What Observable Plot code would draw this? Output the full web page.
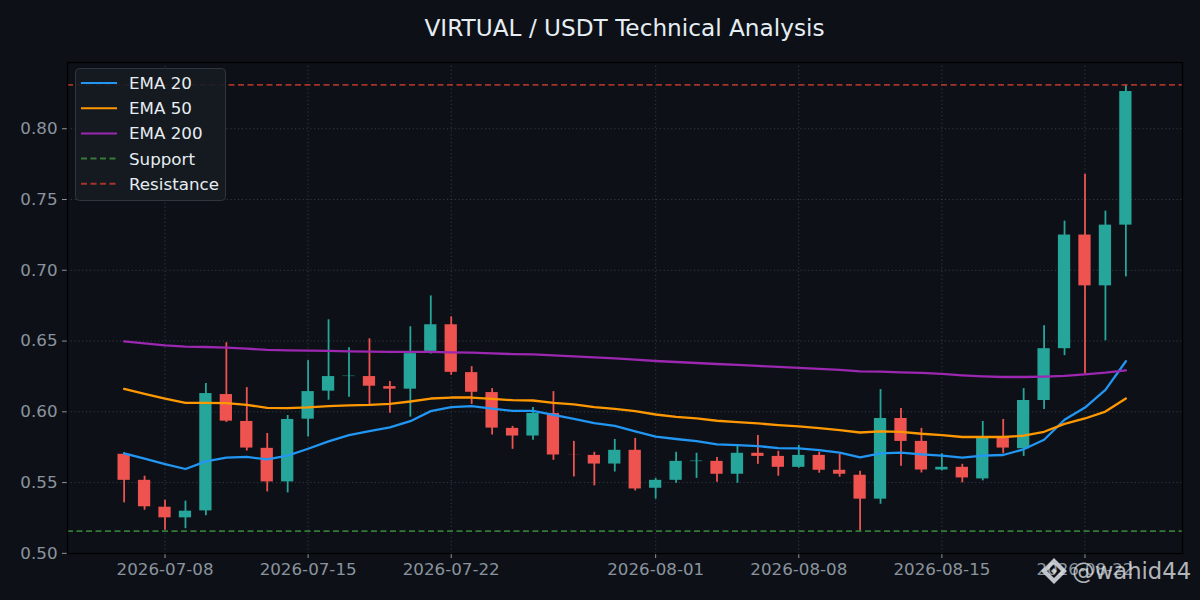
<!DOCTYPE html>
<html>
<head>
<meta charset="utf-8">
<script src="https://cdn.jsdelivr.net/npm/d3@7"></script>
<script src="https://cdn.jsdelivr.net/npm/@observablehq/plot@0.6"></script>
<style>
  html, body { margin: 0; padding: 0; background: #0d1117; }
  #wrap { position: relative; width: 1200px; height: 600px; background: #0d1117; overflow: hidden; font-family: "DejaVu Sans", sans-serif; }
  #title { height: 55px; line-height: 55px; box-sizing: border-box; padding-left: 67px; padding-right: 18px; text-align: center; color: #e6edf3; font-size: 23.2px; }
  #legend { position: absolute; left: 75px; top: 68px; }
  #wm { position: absolute; left: 1040px; top: 556px; display: flex; align-items: center; color: rgba(225,228,232,0.78); font-size: 22.7px; }
</style>
</head>
<body>
<div id="wrap">
  <div id="title">VIRTUAL / USDT Technical Analysis</div>
  <div id="chart"></div>
  <div id="legend"></div>
  <div id="wm"></div>
</div>
<script>
// ---- data ----
const dates = [
  "2026-07-06","2026-07-07","2026-07-08","2026-07-09","2026-07-10","2026-07-11","2026-07-12","2026-07-13","2026-07-14","2026-07-15",
  "2026-07-16","2026-07-17","2026-07-18","2026-07-19","2026-07-20","2026-07-21","2026-07-22","2026-07-23","2026-07-24","2026-07-25",
  "2026-07-26","2026-07-27","2026-07-28","2026-07-29","2026-07-30","2026-07-31","2026-08-01","2026-08-02","2026-08-03","2026-08-04",
  "2026-08-05","2026-08-06","2026-08-07","2026-08-08","2026-08-09","2026-08-10","2026-08-11","2026-08-12","2026-08-13","2026-08-14",
  "2026-08-15","2026-08-16","2026-08-17","2026-08-18","2026-08-19","2026-08-20","2026-08-21","2026-08-22","2026-08-23","2026-08-24"
];
const opens = [
  0.5700,0.5516,0.5326,0.5251,0.5300,0.6122,0.5932,0.5742,0.5505,0.5948,
  0.6146,0.6249,0.6249,0.6178,0.6160,0.6427,0.6615,0.6277,0.6136,0.5883,
  0.5829,0.5988,0.5694,0.5692,0.5631,0.5728,0.5460,0.5516,0.5648,0.5650,
  0.5559,0.5707,0.5685,0.5608,0.5692,0.5587,0.5552,0.5383,0.5953,0.5791,
  0.5589,0.5608,0.5526,0.5822,0.5739,0.6080,0.6446,0.7249,0.6890,0.7319
];
const highs = [
  0.5710,0.5545,0.5376,0.5369,0.6200,0.6488,0.6171,0.5847,0.5974,0.6362,
  0.6650,0.6453,0.6516,0.6214,0.6601,0.6819,0.6671,0.6319,0.6164,0.5897,
  0.6031,0.6143,0.5791,0.5714,0.5805,0.5812,0.5530,0.5714,0.5707,0.5678,
  0.5763,0.5833,0.5721,0.5763,0.5714,0.5700,0.5580,0.6157,0.6023,0.5883,
  0.5704,0.5629,0.5932,0.5946,0.6164,0.6608,0.7347,0.7678,0.7418,0.8310
];
const lows = [
  0.5357,0.5305,0.5164,0.5174,0.5265,0.5925,0.5723,0.5434,0.5427,0.5822,
  0.6082,0.6103,0.6040,0.5990,0.5962,0.6408,0.6258,0.6052,0.5836,0.5735,
  0.5800,0.5657,0.5540,0.5477,0.5575,0.5441,0.5383,0.5495,0.5530,0.5502,
  0.5495,0.5629,0.5545,0.5601,0.5566,0.5538,0.5157,0.5347,0.5615,0.5568,
  0.5582,0.5498,0.5512,0.5704,0.5685,0.6016,0.6397,0.6268,0.6502,0.6953
];
const closes = [
  0.5516,0.5329,0.5251,0.5298,0.6129,0.5934,0.5744,0.5505,0.5946,0.6143,
  0.6249,0.6252,0.6181,0.6160,0.6411,0.6615,0.6279,0.6138,0.5885,0.5829,
  0.5988,0.5695,0.5693,0.5631,0.5728,0.5455,0.5516,0.5650,0.5652,0.5559,
  0.5707,0.5685,0.5608,0.5692,0.5587,0.5559,0.5383,0.5953,0.5791,0.5589,
  0.5608,0.5533,0.5822,0.5744,0.6080,0.6446,0.7249,0.6890,0.7319,0.8263
];
const ema20 = [
  0.5707,0.5669,0.5631,0.5596,0.5650,0.5676,0.5681,0.5664,0.5690,0.5739,
  0.5791,0.5835,0.5864,0.5890,0.5934,0.6005,0.6033,0.6040,0.6023,0.6007,
  0.6007,0.5979,0.5951,0.5920,0.5901,0.5862,0.5824,0.5808,0.5793,0.5770,
  0.5765,0.5758,0.5744,0.5742,0.5730,0.5711,0.5678,0.5707,0.5712,0.5700,
  0.5690,0.5676,0.5690,0.5695,0.5735,0.5803,0.5944,0.6030,0.6155,0.6357
];
const ema50 = [
  0.6162,0.6127,0.6094,0.6063,0.6063,0.6061,0.6049,0.6028,0.6026,0.6031,
  0.6040,0.6046,0.6049,0.6056,0.6073,0.6094,0.6101,0.6101,0.6092,0.6082,
  0.6080,0.6063,0.6052,0.6033,0.6021,0.6005,0.5981,0.5965,0.5953,0.5937,
  0.5927,0.5918,0.5906,0.5897,0.5885,0.5871,0.5854,0.5862,0.5859,0.5845,
  0.5836,0.5822,0.5822,0.5822,0.5831,0.5859,0.5915,0.5953,0.6002,0.6094
];
const ema200 = [
  0.6498,0.6484,0.6470,0.6460,0.6458,0.6453,0.6446,0.6437,0.6434,0.6432,
  0.6430,0.6427,0.6425,0.6423,0.6423,0.6423,0.6420,0.6418,0.6413,0.6408,
  0.6406,0.6399,0.6392,0.6385,0.6378,0.6369,0.6359,0.6352,0.6345,0.6338,
  0.6331,0.6324,0.6317,0.6310,0.6303,0.6296,0.6286,0.6284,0.6279,0.6275,
  0.6268,0.6258,0.6251,0.6246,0.6246,0.6249,0.6254,0.6265,0.6277,0.6293
];
const supportLevel = 0.5157;
const resistanceLevel = 0.8310;
const xTickLabels = ["2026-07-08","2026-07-15","2026-07-22","2026-08-01","2026-08-08","2026-08-15","2026-08-22"];
const yTickValues = [0.50,0.55,0.60,0.65,0.70,0.75,0.80];
const seriesNames = ["EMA 20","EMA 50","EMA 200","Support","Resistance"];

// ---- styles ----
const UP = "#26a69a", DOWN = "#ef5350";
const C20 = "#2196f3", C50 = "#ff9800", C200 = "#9c27b0";
const CSUP = "#388e3c", CRES = "#c0392b";
const DASH = "6,3.5";

const parse = d3.utcParse("%Y-%m-%d");
const DAY = 864e5;
const candles = dates.map((d, i) => ({
  date: parse(d), open: opens[i], high: highs[i], low: lows[i], close: closes[i],
  e20: ema20[i], e50: ema50[i], e200: ema200[i]
}));
const xTicks = xTickLabels.map(parse);
const first = candles[0].date, last = candles[candles.length - 1].date;
const pad = 2.77 * DAY;
const half = 0.3 * DAY;
const col = d => d.close >= d.open ? UP : DOWN;

const chart = Plot.plot({
  width: 1200, height: 545,
  marginTop: 7, marginBottom: 47, marginLeft: 67, marginRight: 18,
  style: { background: "#0d1117", color: "#8b949e", fontFamily: "'DejaVu Sans', sans-serif", fontSize: "16.7px" },
  x: { type: "utc", domain: [new Date(+first - pad), new Date(+last + pad)], ticks: xTicks, tickFormat: d3.utcFormat("%Y-%m-%d"), tickSize: 5, tickPadding: 5, label: null },
  y: { domain: [0.4999, 0.8468], ticks: yTickValues, tickFormat: d3.format(".2f"), tickSize: 5, tickPadding: 5, label: null },
  color: { type: "identity" },
  marks: [
    Plot.gridX(xTicks, { stroke: "#5a6270", strokeOpacity: 0.55, strokeDasharray: "1.2,2.6", strokeWidth: 0.9 }),
    Plot.gridY(yTickValues, { stroke: "#5a6270", strokeOpacity: 0.55, strokeDasharray: "1.2,2.6", strokeWidth: 0.9 }),
    Plot.ruleX(candles, { x: "date", y1: "low", y2: "high", stroke: col, strokeWidth: 1.8 }),
    Plot.rectY(candles, { x1: d => new Date(+d.date - half), x2: d => new Date(+d.date + half), y1: "open", y2: "close", fill: col }),
    Plot.lineY(candles, { x: "date", y: "e20", stroke: C20, strokeWidth: 2.3 }),
    Plot.lineY(candles, { x: "date", y: "e50", stroke: C50, strokeWidth: 2.3 }),
    Plot.lineY(candles, { x: "date", y: "e200", stroke: C200, strokeWidth: 2.3 }),
    Plot.ruleY([supportLevel], { stroke: CSUP, strokeWidth: 1.6, strokeOpacity: 0.85, strokeDasharray: DASH }),
    Plot.ruleY([resistanceLevel], { stroke: CRES, strokeWidth: 1.6, strokeOpacity: 0.85, strokeDasharray: DASH }),
    Plot.frame({ stroke: "#000", strokeWidth: 1.4 })
  ]
});
document.getElementById("chart").appendChild(chart);

// ---- legend ----
const legendColors = [C20, C50, C200, CSUP, CRES];
const legendDash = [null, null, null, DASH, DASH];
const lw = 151, lh = 133;
const leg = d3.select("#legend").append("svg").attr("width", lw).attr("height", lh);
leg.append("rect").attr("x", 0.5).attr("y", 0.5).attr("width", lw - 1).attr("height", lh - 1).attr("rx", 4)
  .attr("fill", "#161b22").attr("fill-opacity", 0.92).attr("stroke", "#30363d");
seriesNames.forEach((name, i) => {
  const cy = 15 + i * 25.2;
  const ln = leg.append("line").attr("x1", 6).attr("x2", 42).attr("y1", cy).attr("y2", cy)
    .attr("stroke", legendColors[i]).attr("stroke-width", 2);
  if (legendDash[i]) ln.attr("stroke-dasharray", legendDash[i]).attr("stroke-opacity", 0.85);
  leg.append("text").attr("x", 54).attr("y", cy).attr("dy", "0.36em")
    .attr("fill", "#e6edf3").attr("font-size", "16.7px").attr("font-family", "'DejaVu Sans', sans-serif").text(name);
});

// ---- watermark ----
const wm = d3.select("#wm");
const logo = wm.append("svg").attr("width", 28).attr("height", 30).style("margin-right", "4px");
const g = logo.append("g").attr("transform", "translate(14,15)").attr("fill", "rgba(225,228,232,0.85)");
g.append("path").attr("d", "M0,-13 L13,0 L0,13 L-13,0 Z M0,-7 L-7,0 L0,7 L7,0 Z").attr("fill-rule", "evenodd");
g.append("path").attr("d", "M0,-3 L3,0 L0,3 L-3,0 Z");
wm.append("span").text("@wahid44");
</script>
</body>
</html>
